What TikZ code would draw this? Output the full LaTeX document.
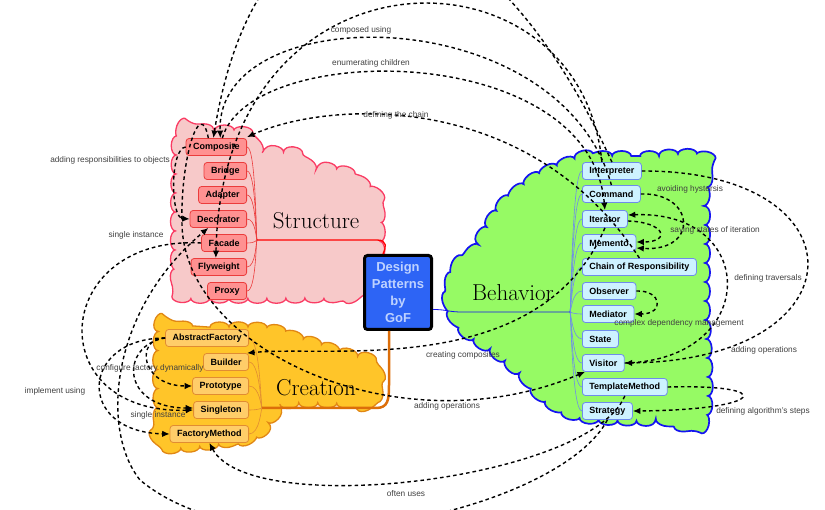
\documentclass[tikz,border=0pt]{standalone}
\usepackage{fontspec}
\setsansfont{Liberation Sans}
\usetikzlibrary{arrows.meta, decorations.pathmorphing}
\definecolor{scloud}{RGB}{247,201,201}
\definecolor{sline}{RGB}{250,60,100}
\definecolor{sfill}{RGB}{255,145,145}
\definecolor{sdraw}{RGB}{235,60,60}
\definecolor{ccloud}{RGB}{255,197,41}
\definecolor{cline}{RGB}{225,135,20}
\definecolor{cfill}{RGB}{255,205,105}
\definecolor{cdraw}{RGB}{225,140,50}
\definecolor{bcloud}{RGB}{150,250,100}
\definecolor{bline}{RGB}{20,20,240}
\definecolor{bfill}{RGB}{205,242,255}
\definecolor{bdraw}{RGB}{110,140,235}
\definecolor{gfill}{RGB}{45,100,245}
\definecolor{gtext}{RGB}{190,210,255}
\definecolor{oline}{RGB}{220,110,10}

\begin{document}
\begin{tikzpicture}
  [x=1pt, y=-1pt,
  box/.style={rounded corners=3pt, line width=0.8pt, minimum height=17pt,
    inner xsep=7pt, inner ysep=2pt, font=\sffamily\bfseries\fontsize{9}{10}\selectfont},
  sbox/.style={box, draw=sdraw, fill=sfill, anchor=east},
  cbox/.style={box, draw=cdraw, fill=cfill, anchor=east},
  bbox/.style={box, draw=bdraw, fill=bfill, anchor=west},
  blob/.style={line width=1.3pt, decorate,
    decoration={bumps, segment length=38pt, amplitude=5pt}},
  title/.style={font=\fontsize{23}{23}\selectfont},
  sedge/.style={draw=sdraw, line width=0.6pt},
  cedge/.style={draw=cdraw, line width=0.6pt},
  bedge/.style={draw=bdraw, line width=0.6pt},
  arr/.style={->, >={Latex[length=7.5pt, width=6.5pt]}, line width=1.4pt,
    dash pattern=on 3.6pt off 3pt},
  lbl/.style={font=\sffamily\fontsize{8.3}{9}\selectfont, text=black!75, inner sep=0pt}]
  \useasboundingbox (0,0) rectangle (825,510);
  \clip (0,0) rectangle (825,510);

  \path[blob, draw=sline, fill=scloud] plot[smooth cycle, tension=0.5] coordinates
    {(180,133) (215,130) (246,133) (260,148) (290,152) (310,164) (340,170)
     (366,185) (378,200) (380,240) (376,275) (355,295) (300,298) (220,298)
     (182,296) (176,270) (176,180)};
  \path[blob, draw=cline, fill=ccloud] plot[smooth cycle, tension=0.5] coordinates
    {(160,328) (210,327) (265,328) (300,338) (340,351) (366,358) (376,370)
     (377,396) (366,403) (290,404) (272,423) (250,438) (190,447) (162,444)
     (158,400) (158,350)};
  \path[blob, draw=bline, fill=bcloud, line width=1.7pt] plot[smooth cycle, tension=0.5] coordinates
    {(580,157) (640,156) (703,157) (705,200) (705,300) (705,418) (660,421)
     (585,418) (548,402) (522,376) (495,353) (470,336) (450,310) (452,274)
     (472,250) (500,207) (532,179) (560,165)};

  \node (structure) at (316,221) [title] {Structure};
  \node (creation) at (316,388) [title] {Creation};
  \node (behavior) at (513,293) [title] {Behavior};

  \node (gof) at (398,292.5) [draw=black, line width=3pt, fill=gfill, rounded corners=3pt,
    minimum width=67pt, minimum height=74pt, text width=60pt, align=center, text=gtext,
    font=\sffamily\bfseries\fontsize{13}{17}\selectfont] {Design\\Patterns\\by\\GoF};

  \node (Composite) at (247,147) [sbox] {Composite};
  \node (Bridge) at (247,171) [sbox] {Bridge};
  \node (Adapter) at (247,195) [sbox] {Adapter};
  \node (Decorator) at (247,219) [sbox] {Decorator};
  \node (Facade) at (247,243) [sbox] {Facade};
  \node (Flyweight) at (247,267) [sbox] {Flyweight};
  \node (Proxy) at (247,291) [sbox] {Proxy};

  \node (AbstractFactory) at (249,338) [cbox] {AbstractFactory};
  \node (Builder) at (249,362) [cbox] {Builder};
  \node (Prototype) at (249,386) [cbox] {Prototype};
  \node (Singleton) at (249,410) [cbox] {Singleton};
  \node (FactoryMethod) at (249,434) [cbox] {FactoryMethod};

  \node (Interpreter) at (582,171) [bbox] {Interpreter};
  \node (Command) at (582,194) [bbox] {Command};
  \node (Iterator) at (582,219) [bbox] {Iterator};
  \node (Memento) at (582,243) [bbox] {Memento};
  \node (Chain) at (582,267) [bbox] {Chain of Responsibility};
  \node (Observer) at (582,291) [bbox] {Observer};
  \node (Mediator) at (582,314) [bbox] {Mediator};
  \node (State) at (582,339) [bbox] {State};
  \node (Visitor) at (582,363) [bbox] {Visitor};
  \node (TemplateMethod) at (582,387) [bbox] {TemplateMethod};
  \node (Strategy) at (582,411) [bbox] {Strategy};

  \coordinate (shub) at (257,240);
  \coordinate (chub) at (262,408);
  \coordinate (bhub) at (570,312);

  \draw[sedge] (Composite.east) .. controls +(9,0) and +(-1,0) .. (shub);
  \draw[sedge] (Bridge.east) .. controls +(9,0) and +(-1,0) .. (shub);
  \draw[sedge] (Adapter.east) .. controls +(9,0) and +(-1,0) .. (shub);
  \draw[sedge] (Decorator.east) .. controls +(9,0) and +(-1,0) .. (shub);
  \draw[sedge] (Facade.east) .. controls +(9,0) and +(-1,0) .. (shub);
  \draw[sedge] (Flyweight.east) .. controls +(9,0) and +(-1,0) .. (shub);
  \draw[sedge] (Proxy.east) .. controls +(9,0) and +(-1,0) .. (shub);

  \draw[cedge] (AbstractFactory.east) .. controls +(11,0) and +(-1,0) .. (chub);
  \draw[cedge] (Builder.east) .. controls +(11,0) and +(-1,0) .. (chub);
  \draw[cedge] (Prototype.east) .. controls +(11,0) and +(-1,0) .. (chub);
  \draw[cedge] (Singleton.east) .. controls +(11,0) and +(-1,0) .. (chub);
  \draw[cedge] (FactoryMethod.east) .. controls +(11,0) and +(-1,0) .. (chub);

  \draw[bedge] (bhub) .. controls +(1,0) and +(-10,0) .. (Interpreter.west);
  \draw[bedge] (bhub) .. controls +(1,0) and +(-10,0) .. (Command.west);
  \draw[bedge] (bhub) .. controls +(1,0) and +(-10,0) .. (Iterator.west);
  \draw[bedge] (bhub) .. controls +(1,0) and +(-10,0) .. (Memento.west);
  \draw[bedge] (bhub) .. controls +(1,0) and +(-10,0) .. (Chain.west);
  \draw[bedge] (bhub) .. controls +(1,0) and +(-10,0) .. (Observer.west);
  \draw[bedge] (bhub) .. controls +(1,0) and +(-10,0) .. (Mediator.west);
  \draw[bedge] (bhub) .. controls +(1,0) and +(-10,0) .. (State.west);
  \draw[bedge] (bhub) .. controls +(1,0) and +(-10,0) .. (Visitor.west);
  \draw[bedge] (bhub) .. controls +(1,0) and +(-10,0) .. (TemplateMethod.west);
  \draw[bedge] (bhub) .. controls +(1,0) and +(-10,0) .. (Strategy.west);

  \draw[red, line width=1.3pt] (shub) -- (377,240)
    .. controls (388,240) and (386,248) .. ([xshift=-15pt]gof.north);
  \draw[oline, line width=2.5pt] (chub) -- (376,408)
    .. controls (388,408) and (389,400) .. (389,385) -- ([xshift=-9pt]gof.south);
  \draw[bline, line width=0.8pt] ([yshift=-17pt]gof.east)
    .. controls +(14,0) and +(-14,0) .. (462,312) -- (bhub);

  \draw[arr] (Interpreter.north) .. controls (470,-150) and (260,-150) .. ([xshift=-3pt]Composite.north);
  \draw[arr] ([xshift=-10pt]Interpreter.north) .. controls (580,-63) and (222,-63) .. ([xshift=-3pt]Flyweight.north);
  \draw[arr] (Command.north) .. controls (560,-2) and (215,-2) .. ([xshift=4pt]Composite.north);
  \draw[arr] ([xshift=6pt]Composite.north) .. controls (250,40) and (590,40) .. (Iterator.north);
  \draw[arr] (Chain.north) .. controls (530,90) and (330,100) .. ([yshift=1pt]Composite.north east);
  \draw[arr] (Iterator.south) .. controls (540,380) and (330,345) .. ([xshift=-2pt]Builder.north east);
  \draw[arr] ([xshift=-8pt]Composite.north) .. controls (200,95) and (180,160) .. (182,225)
    .. controls (185,350) and (400,450) .. ([xshift=3pt]Visitor.south west);
  \draw[arr] (Composite.west) .. controls (170,148) and (170,218) .. (Decorator.west);
  \draw[arr] (Facade.west) .. controls (50,235) and (40,415) .. (Singleton.west);
  \draw[arr] (AbstractFactory.west) .. controls (135,338) and (140,386) .. (Prototype.west);
  \draw[arr] (AbstractFactory.west) .. controls (80,338) and (75,432) .. (FactoryMethod.west);
  \draw[arr] (AbstractFactory.west) .. controls (120,345) and (120,408) .. ([yshift=2pt]Singleton.west);
  \draw[arr] (TemplateMethod.south) .. controls (590,480) and (250,520) .. (FactoryMethod.south);
  \draw[arr] (Strategy.south) .. controls (560,510) and (260,580) .. (140,480)
    .. controls (100,430) and (110,310) .. ([xshift=-10pt]Decorator.south);
  \draw[arr] (Command.east) .. controls (695,192) and (700,252) .. ([yshift=-5pt]Memento.east);
  \draw[arr] ([yshift=-2pt]Iterator.east) .. controls (665,222) and (672,242) .. ([yshift=1pt]Memento.east);
  \draw[arr] (Visitor.east) .. controls (760,360) and (760,210) .. ([yshift=4pt]Iterator.east);
  \draw[arr] (Interpreter.east) .. controls (865,170) and (865,360) .. (Visitor.east);
  \draw[arr] (Observer.east) .. controls (662,290) and (665,314) .. (Mediator.east);
  \draw[arr] (TemplateMethod.east) .. controls (780,384) and (765,410) .. (Strategy.east);

  \node (lComposed) at (361,30) [lbl] {composed using};
  \node (lEnum) at (371,63) [lbl] {enumerating children};
  \node (lChain) at (396,115) [lbl] {defining the chain};
  \node (lResp) at (110,160) [lbl] {adding responsibilities to objects};
  \node (lSingleA) at (136,235) [lbl] {single instance};
  \node (lConfig) at (150,368) [lbl] {configure factory dynamically};
  \node (lImpl) at (55,391) [lbl] {implement using};
  \node (lSingleB) at (158,415) [lbl] {single instance};
  \node (lCreating) at (463,355) [lbl] {creating composites};
  \node (lAddOpsA) at (447,406) [lbl] {adding operations};
  \node (lOften) at (406,494) [lbl] {often uses};
  \node (lHyst) at (690,189) [lbl] {avoiding hystersis};
  \node (lSaving) at (715,230) [lbl] {saving states of iteration};
  \node (lTrav) at (768,278) [lbl] {defining traversals};
  \node (lDep) at (679,323) [lbl] {complex dependency management};
  \node (lAddOpsB) at (764,350) [lbl] {adding operations};
  \node (lSteps) at (763,411) [lbl] {defining algorithm's steps};
\end{tikzpicture}
\end{document}
